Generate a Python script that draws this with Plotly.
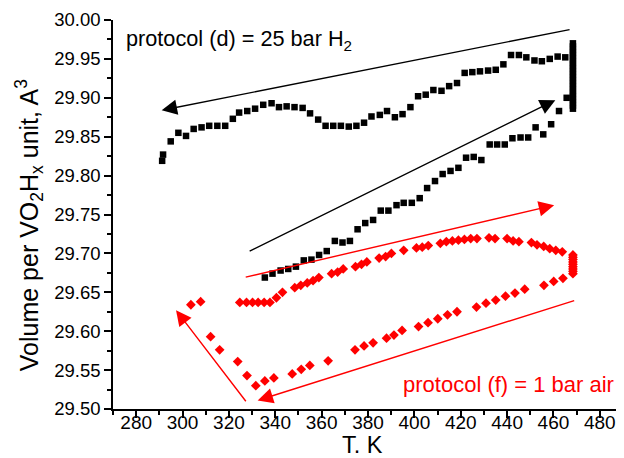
"""
Volume per VO2Hx unit vs temperature, protocols (d) and (f).
"""

import plotly.graph_objects as go

# ---- dados ----
# protocolo (d), 25 bar H2 - resfriamento (curva superior)
D_COOL_T = [291.2, 291.6, 294.9, 298.2, 301.5, 304.8, 308.2, 311.5, 315.0, 318.4,
            321.7, 324.4, 327.9, 331.3, 334.8, 338.4, 341.6, 344.9, 348.3, 351.8,
            355.0, 358.5, 361.7, 365.0, 368.3, 371.7, 375.0, 378.3, 381.5, 385.1,
            388.2, 391.6, 394.9, 398.3, 401.6, 404.9, 408.2, 411.7, 415.0, 418.4,
            421.7, 425.0, 428.3, 431.8, 435.1, 438.4, 441.7, 445.1, 448.3, 451.8,
            455.0, 458.4, 461.8, 465.1]
D_COOL_V = [29.819, 29.827, 29.844, 29.855, 29.851, 29.860, 29.862, 29.864, 29.864, 29.864,
            29.873, 29.881, 29.883, 29.886, 29.891, 29.893, 29.888, 29.889, 29.888, 29.887,
            29.880, 29.872, 29.864, 29.864, 29.864, 29.863, 29.864, 29.868, 29.876, 29.878,
            29.883, 29.875, 29.879, 29.888, 29.902, 29.904, 29.910, 29.909, 29.915, 29.919,
            29.932, 29.933, 29.934, 29.935, 29.936, 29.943, 29.955, 29.955, 29.952, 29.948,
            29.947, 29.950, 29.953, 29.952]

# protocolo (d) - aquecimento (curva inferior)
D_HEAT_T = [335.5, 338.8, 342.3, 345.6, 348.9, 352.3, 355.6, 358.9, 362.2, 365.7,
            369.0, 372.2, 375.5, 378.8, 382.2, 385.5, 388.8, 392.3, 395.4, 398.9,
            402.3, 405.5, 408.9, 412.2, 415.6, 419.0, 422.3, 425.6, 428.9, 432.5,
            435.7, 439.0, 442.3, 445.8, 449.1, 452.3, 455.6, 459.0, 462.4, 465.7]
D_HEAT_V = [29.669, 29.674, 29.678, 29.680, 29.683, 29.691, 29.692, 29.698, 29.703, 29.716,
            29.714, 29.716, 29.731, 29.739, 29.743, 29.755, 29.755, 29.762, 29.765, 29.765,
            29.771, 29.784, 29.793, 29.802, 29.806, 29.810, 29.823, 29.824, 29.820, 29.840,
            29.840, 29.840, 29.848, 29.849, 29.849, 29.862, 29.853, 29.866, 29.883, 29.900]

# protocolo (d) - patamar isotérmico
D_HOLD_T = 468.4
D_HOLD_V = [29.886, 29.890, 29.894, 29.898, 29.902, 29.906, 29.910, 29.914, 29.918, 29.922,
            29.926, 29.930, 29.934, 29.938, 29.942, 29.946, 29.950, 29.954, 29.958, 29.962,
            29.966, 29.970]

# protocolo (f), 1 bar ar - aquecimento
F_HEAT_T = [324.7, 327.6, 330.2, 332.6, 335.2, 337.7, 340.5, 343.1, 348.4, 351.0,
            353.8, 356.3, 358.8, 364.3, 366.9, 369.3, 374.6, 377.2, 379.5, 384.8,
            387.6, 390.1, 395.4, 400.9, 403.4, 406.0, 411.2, 413.8, 416.4, 419.0,
            421.6, 424.3, 427.0, 432.2, 434.8, 440.0, 442.6, 445.1, 450.5, 452.9,
            455.8, 458.4, 461.0, 463.8]
F_HEAT_V = [29.637, 29.637, 29.637, 29.637, 29.637, 29.637, 29.643, 29.650, 29.656, 29.659,
            29.662, 29.665, 29.669, 29.674, 29.676, 29.680, 29.683, 29.686, 29.689, 29.694,
            29.696, 29.700, 29.704, 29.707, 29.708, 29.710, 29.713, 29.715, 29.716, 29.717,
            29.718, 29.719, 29.719, 29.720, 29.719, 29.719, 29.716, 29.715, 29.714, 29.711,
            29.709, 29.706, 29.704, 29.702]

# protocolo (f) - patamar isotérmico
F_HOLD_T = 468.4
F_HOLD_V = [29.674, 29.677, 29.680, 29.683, 29.686, 29.689, 29.692, 29.695, 29.698]

# protocolo (f) - resfriamento
F_COOL_T = [464.1, 460.1, 455.9, 447.6, 443.4, 439.3, 435.1, 430.9, 426.8, 418.4,
            414.3, 410.1, 405.9, 401.8, 394.7, 391.2, 388.0, 382.2, 378.3, 374.4,
            362.8, 354.9, 351.2, 347.3, 339.4, 335.5, 331.6, 327.8, 323.8, 316.0,
            312.1, 307.8, 303.6]
F_COOL_V = [29.668, 29.664, 29.659, 29.654, 29.649, 29.645, 29.640, 29.636, 29.631, 29.625,
            29.621, 29.616, 29.611, 29.606, 29.601, 29.595, 29.591, 29.585, 29.581, 29.576,
            29.562, 29.556, 29.551, 29.545, 29.540, 29.536, 29.530, 29.543, 29.561, 29.576,
            29.593, 29.638, 29.634]

# setas: (x_cauda, y_cauda, x_ponta, y_ponta)
SETAS_PRETAS = [
    (467.6, 29.988, 291.0, 29.884),
    (328.3, 29.702, 460.8, 29.897),
]
SETAS_VERMELHAS = [
    (326.6, 29.669, 460.3, 29.762),
    (469.6, 29.640, 332.4, 29.511),
    (327.8, 29.508, 297.2, 29.627),
]

X_RANGE = [270, 490]
X_TICKS = [280, 300, 320, 340, 360, 380, 400, 420, 440, 460, 480]
Y_RANGE = [29.5, 30.0]
Y_TICKS = [29.50, 29.55, 29.60, 29.65, 29.70, 29.75, 29.80, 29.85, 29.90, 29.95, 30.00]

COR_D = "black"
COR_F = "#FF0000"
FONTE = "Liberation Sans, Arial, sans-serif"

# a página tem 8 px de margem no body; a figura é reduzida para caber
LARGURA = 616
ALTURA = 450


def construir_figura() -> go.Figure:
    fig = go.Figure()

    d_x = D_COOL_T + D_HEAT_T + [D_HOLD_T] * len(D_HOLD_V)
    d_y = D_COOL_V + D_HEAT_V + D_HOLD_V
    fig.add_trace(go.Scatter(
        x=d_x, y=d_y, mode="markers", name="protocol (d)",
        marker=dict(symbol="square", size=6.5, color=COR_D),
    ))

    f_x = F_HEAT_T + [F_HOLD_T] * len(F_HOLD_V) + F_COOL_T
    f_y = F_HEAT_V + F_HOLD_V + F_COOL_V
    fig.add_trace(go.Scatter(
        x=f_x, y=f_y, mode="markers", name="protocol (f)",
        marker=dict(symbol="diamond", size=7.5, color=COR_F),
    ))

    # traço vazio só para ativar o eixo x2 (rótulos)
    fig.add_trace(go.Scatter(
        x=[], y=[], xaxis="x2", yaxis="y", mode="markers",
        showlegend=False, hoverinfo="skip",
    ))

    for cor, setas in ((COR_D, SETAS_PRETAS), (COR_F, SETAS_VERMELHAS)):
        for x0, y0, x1, y1 in setas:
            fig.add_annotation(
                x=x1, y=y1, ax=x0, ay=y0,
                xref="x", yref="y", axref="x", ayref="y",
                text="", showarrow=True,
                arrowhead=2, arrowsize=2.2, arrowwidth=1.4,
                arrowcolor=cor, standoff=0, startstandoff=0,
            )

    fig.add_annotation(
        x=0.022, y=0.949, xref="paper", yref="paper",
        text="protocol (d) = 25 bar H<sub>2</sub>",
        showarrow=False, xanchor="left", yanchor="middle",
        font=dict(size=21.7, color=COR_D, family=FONTE),
    )
    fig.add_annotation(
        x=0.564, y=0.062, xref="paper", yref="paper",
        text="protocol (f) = 1 bar air",
        showarrow=False, xanchor="left", yanchor="middle",
        font=dict(size=22, color=COR_F, family=FONTE),
    )

    # títulos dos eixos como anotações, para posição fixa
    fig.add_annotation(
        x=0.49, y=-0.093, xref="paper", yref="paper",
        text="T. K", showarrow=False,
        xanchor="center", yanchor="middle",
        font=dict(size=23.5, color="black", family=FONTE),
    )
    fig.add_annotation(
        x=-0.163, y=0.472, xref="paper", yref="paper",
        text="Volume per VO<sub>2</sub>H<sub>x</sub> unit, A<sup>3</sup>",
        textangle=-90, showarrow=False,
        xanchor="center", yanchor="middle",
        font=dict(size=25, color="black", family=FONTE),
    )

    fig.update_layout(
        width=LARGURA,
        height=ALTURA,
        paper_bgcolor="white",
        plot_bgcolor="white",
        showlegend=False,
        font=dict(family=FONTE, size=19, color="black"),
        margin=dict(l=105, r=1, t=12, b=49),
        xaxis=dict(
            range=X_RANGE,
            automargin=False,
            tickmode="array",
            tickvals=X_TICKS,
            showticklabels=False,
            ticks="outside", ticklen=7, tickwidth=1.5, tickcolor="black",
            minor=dict(dtick=10, tick0=270, ticks="outside", ticklen=4,
                       tickwidth=1.5, tickcolor="black"),
            showline=True, linewidth=1.5, linecolor="black",
            showgrid=False, zeroline=False,
        ),
        # eixo só com os rótulos, mais perto da linha do eixo
        xaxis2=dict(
            range=X_RANGE,
            overlaying="x",
            anchor="y",
            side="bottom",
            automargin=False,
            tickmode="array",
            tickvals=X_TICKS,
            ticks="",
            showline=False,
            showgrid=False,
            zeroline=False,
            tickfont=dict(size=19),
        ),
        yaxis=dict(
            range=Y_RANGE,
            automargin=False,
            tickmode="array",
            tickvals=Y_TICKS,
            tickformat=".2f",
            ticks="outside", ticklen=7, tickwidth=1.5, tickcolor="black",
            minor=dict(dtick=0.025, tick0=29.5, ticks="outside", ticklen=4,
                       tickwidth=1.5, tickcolor="black"),
            showline=True, linewidth=1.5, linecolor="black",
            showgrid=False, zeroline=False,
            tickfont=dict(size=18.5),
        ),
    )

    return fig


def main() -> None:
    fig = construir_figura()
    fig.write_html("out.html")


if __name__ == "__main__":
    main()
